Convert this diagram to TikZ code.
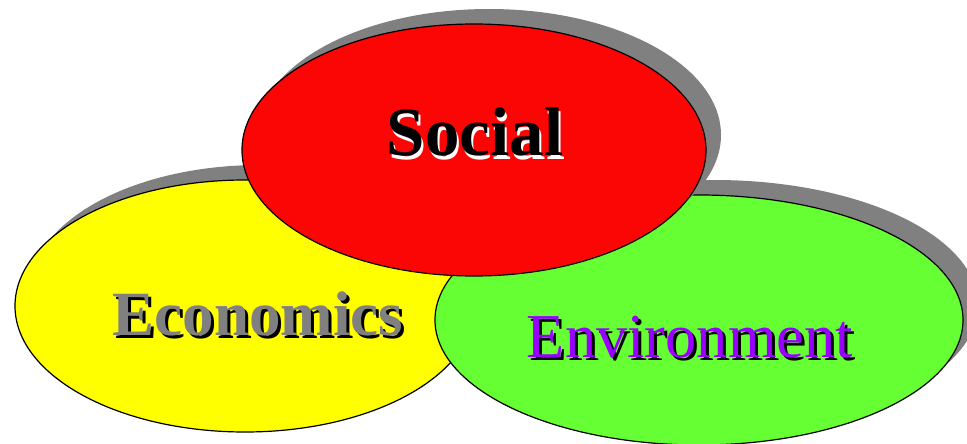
\documentclass[tikz,border=0pt]{standalone}
\usepackage{fontspec}
\setmainfont{Liberation Serif}
\usetikzlibrary{shapes.geometric,shadows}
\definecolor{shgray}{RGB}{128,128,128}
\definecolor{cyel}{RGB}{255,255,0}
\definecolor{cred}{RGB}{252,5,5}
\definecolor{cgrn}{RGB}{102,255,51}
\definecolor{cpur}{RGB}{153,0,255}
\tikzset{
  blob/.style={ellipse, draw=black, line width=1.2pt, inner sep=0pt,
    drop shadow={shadow xshift=15pt, shadow yshift=15pt, fill=shgray, opacity=1}},
  bigbold/.style={font=\fontsize{69}{69}\selectfont\bfseries, anchor=base, inner sep=0pt},
  bigreg/.style={font=\fontsize{62.5}{62.5}\selectfont, anchor=base, inner sep=0pt}
}
\begin{document}
\begin{tikzpicture}[x=1pt,y=-1pt]
\useasboundingbox (0,0) rectangle (967,444);
\node[blob, fill=cyel, minimum width=460pt, minimum height=252pt] (eco) at (245,306) {};
\node[blob, fill=cgrn, minimum width=528pt, minimum height=250pt] (env) at (699,320) {};
\node[blob, fill=cred, minimum width=464pt, minimum height=252pt] (soc) at (474,150) {};
% texts
\node[bigbold, white] (socS) at (477,159) {Social};
\node[bigbold, black] (socT) at (475,155) {Social};
\node[bigbold, font=\fontsize{63}{63}\selectfont\bfseries, black] (ecoS) at (261,338) {Economics};
\node[bigbold, font=\fontsize{63}{63}\selectfont\bfseries, shgray] (ecoT) at (258,335) {Economics};
\node[bigreg, black] (envS) at (693,360) {Environment};
\node[bigreg, cpur] (envT) at (690,357) {Environment};
\end{tikzpicture}
\end{document}
